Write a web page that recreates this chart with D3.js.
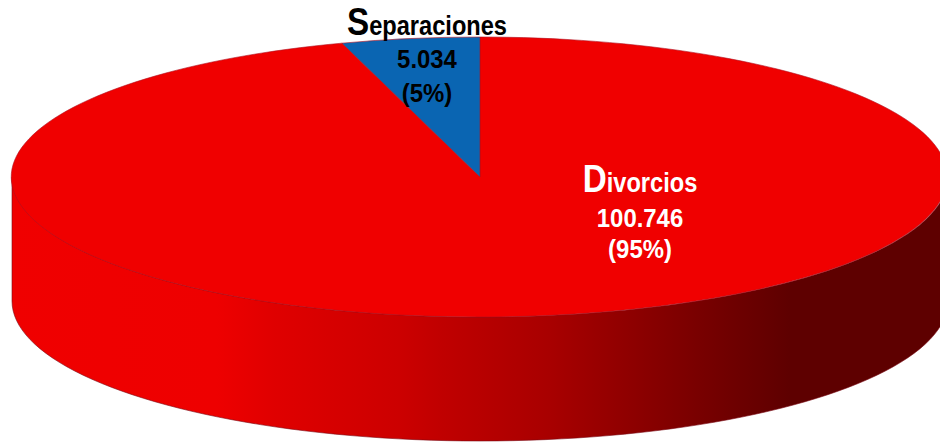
<!DOCTYPE html>
<html>
<head>
<meta charset="utf-8">
<script src="https://cdn.jsdelivr.net/npm/d3@7"></script>
<style>
html, body { margin: 0; padding: 0; background: #fff; overflow: hidden; }
svg { display: block; }
text { font-family: "Liberation Sans", Arial, sans-serif; font-weight: bold; text-anchor: middle; }
</style>
</head>
<body>
<svg width="940" height="442"></svg>
<script>
var categories = ['Divorcios', 'Separaciones'];
var values = [100746, 5034];

var svg = d3.select('svg');
var cx = 480, cy = 177, rx = 468, ry = 140, depth = 124;

// scales from the unit circle to the tilted pie
var xScale = d3.scaleLinear().domain([-1, 1]).range([cx - rx, cx + rx]);
var yScale = d3.scaleLinear().domain([-1, 1]).range([cy - ry, cy + ry]);

var colors = {Divorcios: '#f00000', Separaciones: '#0a65b2'};
var labelColors = {Divorcios: '#ffffff', Separaciones: '#000000'};
var labelX = {Divorcios: 640, Separaciones: 427};
var labelY = {
    Divorcios: [192, 227, 258],
    Separaciones: [35, 68, 102]
};

var total = d3.sum(values);
var numFormat = d3.formatLocale({decimal: ',', thousands: '.', grouping: [3], currency: ['', '']}).format(',d');

var pie = d3.pie().sort(null).value(function(d, i) { return values[i]; });
var slices = pie(categories);

var defs = svg.append('defs');
var sideGrad = defs.append('linearGradient')
    .attr('id', 'sideGrad')
    .attr('gradientUnits', 'userSpaceOnUse')
    .attr('x1', 0).attr('x2', 940).attr('y1', 0).attr('y2', 0);
[[0, '#f00000'], [0.23, '#ee0000'], [0.29, '#e00000'], [0.37, '#d40000'], [0.425, '#cc0000'], [0.47, '#c00000'], [0.585, '#a80000'], [0.745, '#780000'], [0.84, '#5e0000'], [1, '#5e0000']]
    .forEach(function(s) {
        sideGrad.append('stop').attr('offset', s[0]).attr('stop-color', s[1]);
    });

// front wall: lower half of the rim, then back along the rim shifted down
var angles = d3.range(0, 181, 2).map(function(d) { return d * Math.PI / 180; });
var rimPoint = function(a, dy) {
    return [xScale(Math.cos(a)), yScale(Math.sin(a)) + dy];
};
var sideLine = d3.line();
svg.append('path')
    .attr('class', 'side')
    .attr('d', sideLine(angles.map(function(a) { return rimPoint(a, 0); })
        .concat(angles.slice().reverse().map(function(a) { return rimPoint(a, depth); }))) + 'Z')
    .style('fill', 'url(#sideGrad)')
    .style('stroke', '#7a0a14')
    .style('stroke-width', 0.6);

// top face, unit radius arc stretched into an ellipse
var arc = d3.arc().innerRadius(0).outerRadius(1);
svg.selectAll('.slice')
    .data(slices)
    .enter()
    .append('path')
    .attr('class', 'slice')
    .attr('transform', 'translate(' + [cx, cy] + ') scale(' + [rx, ry] + ')')
    .attr('d', arc)
    .style('fill', function(d) { return colors[d.data]; })
    .style('stroke', '#b01020')
    .style('stroke-width', 0.6)
    .attr('vector-effect', 'non-scaling-stroke');

// labels are narrower than the font, so squeeze them sideways
var addLabel = function(x, y, squeeze) {
    return svg.append('text')
        .attr('transform', 'translate(' + [x, y] + ') scale(' + squeeze + ',1)');
};
categories.forEach(function(name, i) {
    var ys = labelY[name];
    var col = labelColors[name];
    var head = addLabel(labelX[name], ys[0], 0.875)
        .style('fill', col)
        .style('font-size', '27px');
    head.append('tspan').style('font-size', '38px').text(name.charAt(0));
    head.append('tspan').text(name.slice(1));
    addLabel(labelX[name], ys[1], 0.92)
        .style('fill', col).style('font-size', '26px')
        .text(numFormat(values[i]));
    addLabel(labelX[name], ys[2], 0.92)
        .style('fill', col).style('font-size', '26px')
        .text('(' + Math.round(values[i] / total * 100) + '%)');
});
</script>
</body>
</html>
